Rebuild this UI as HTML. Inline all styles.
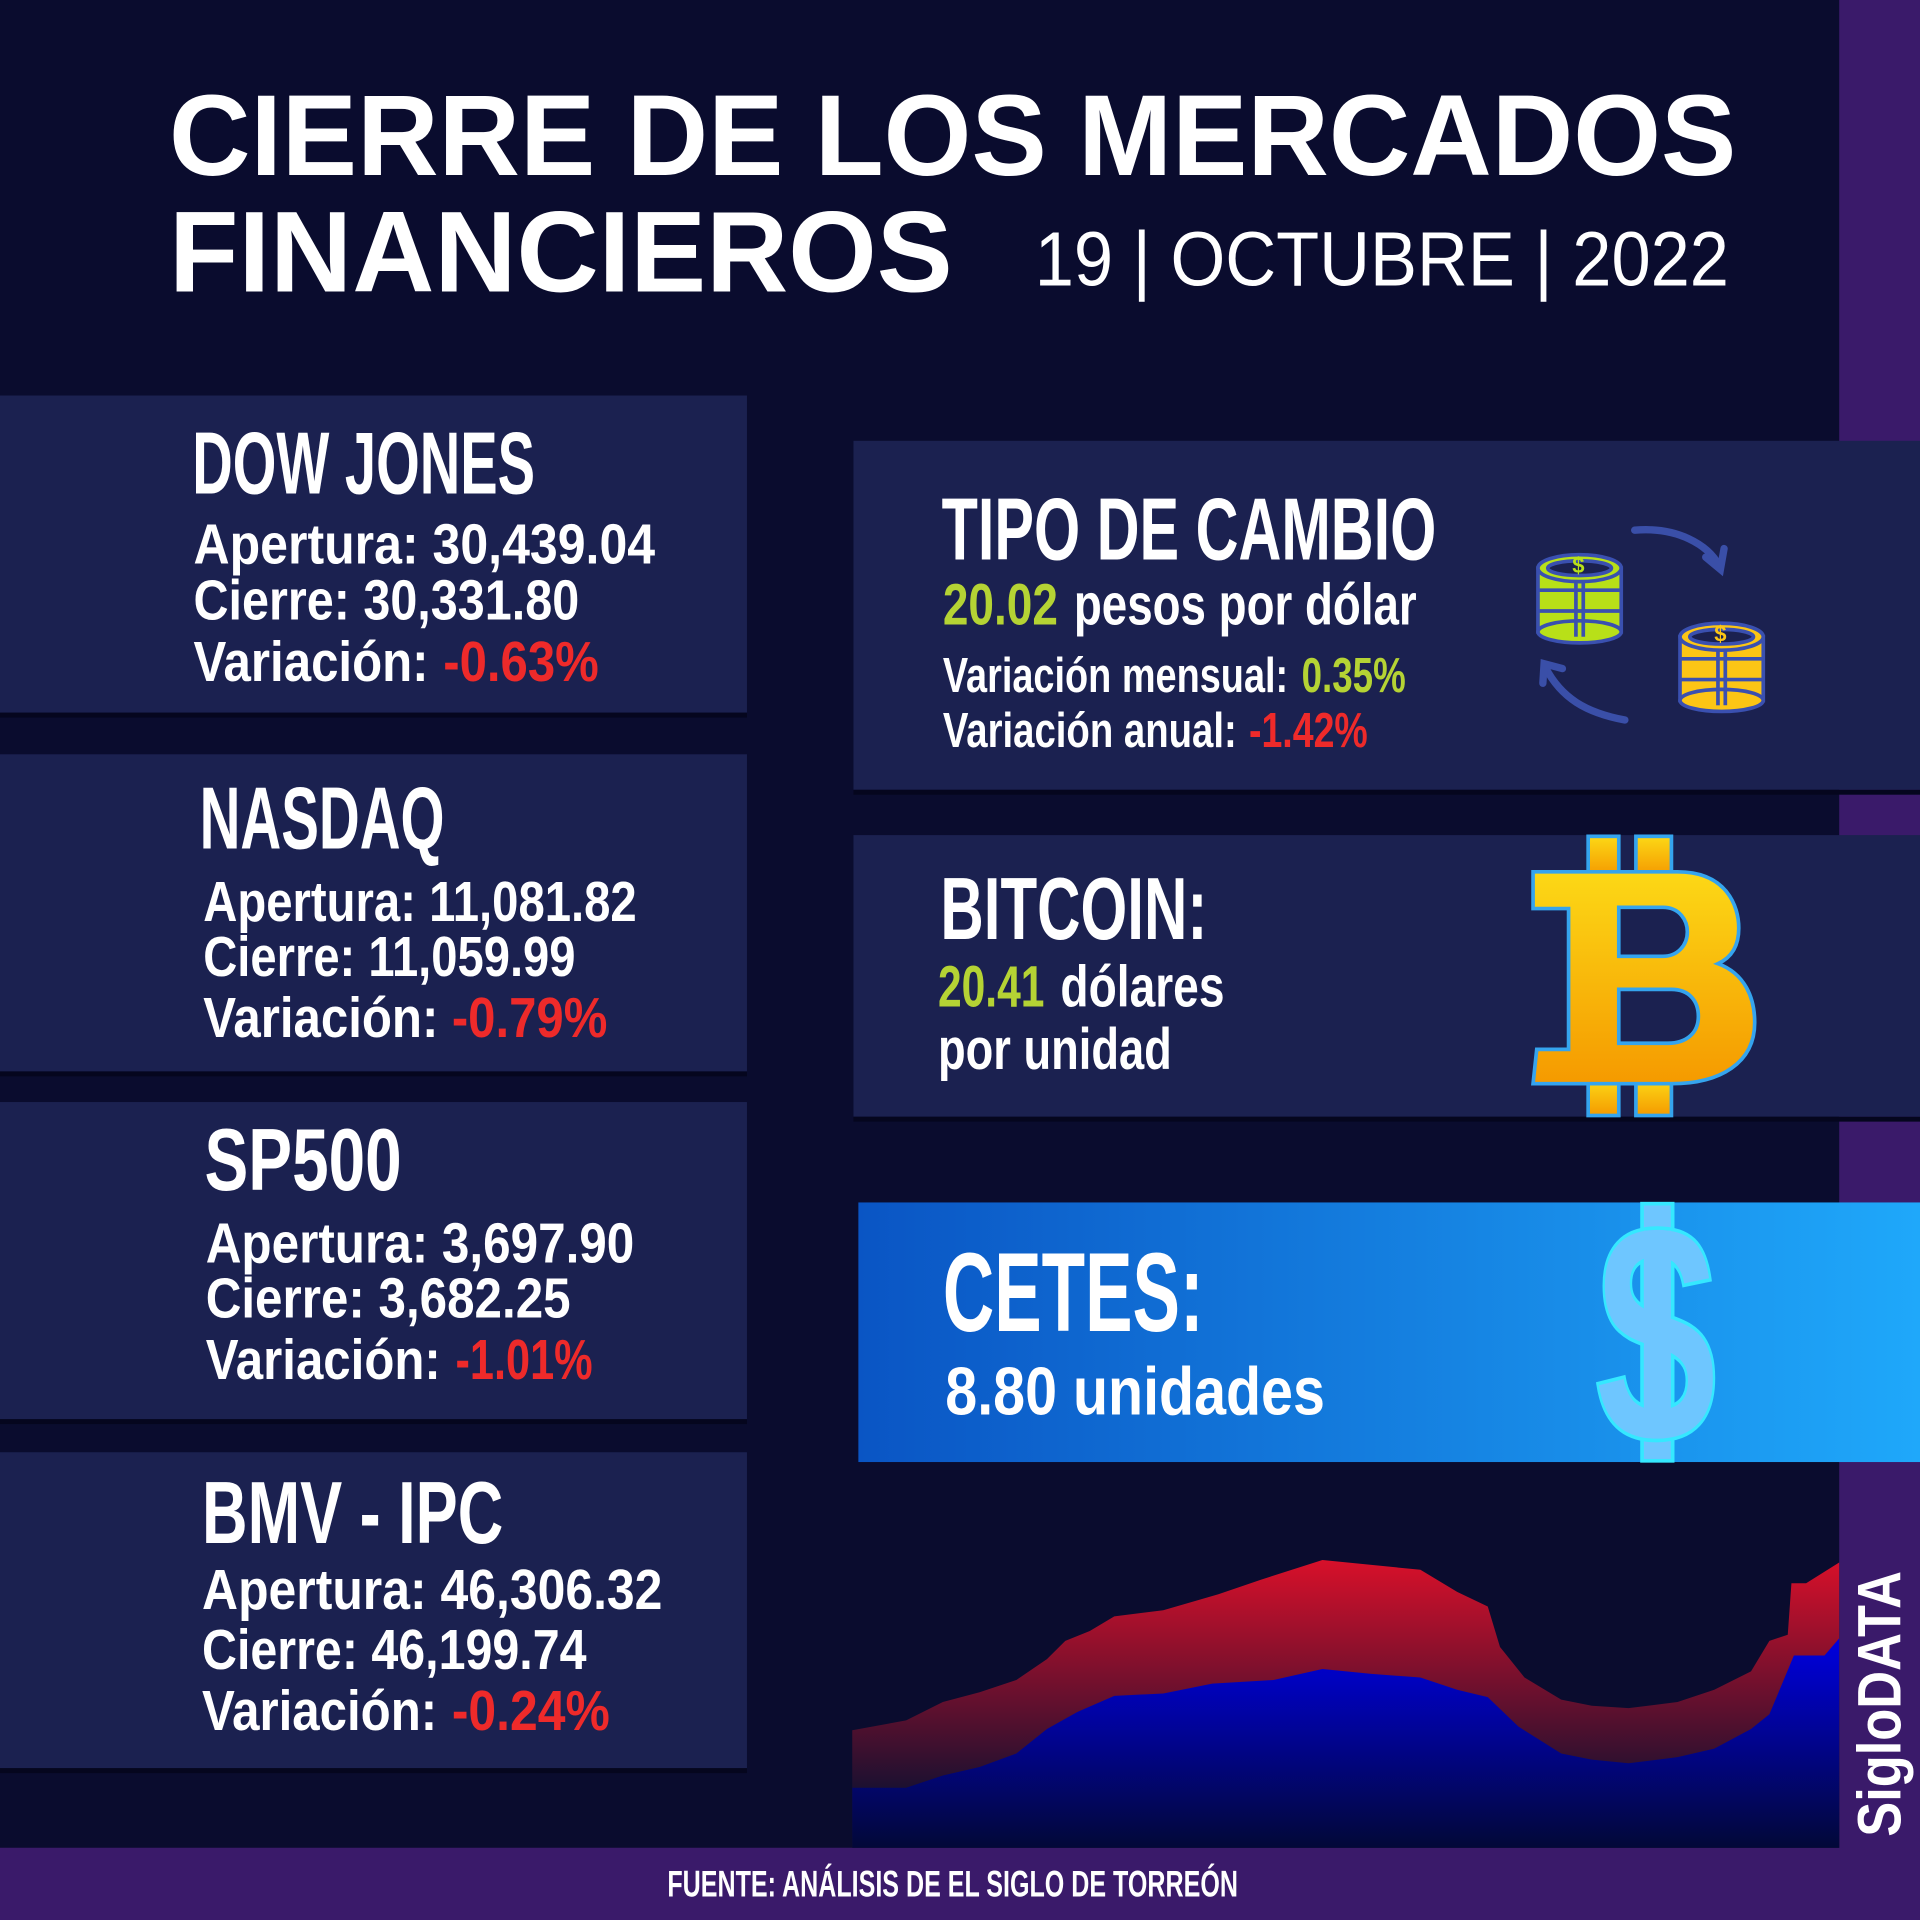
<!DOCTYPE html>
<html><head><meta charset="utf-8"><style>
html,body{margin:0;padding:0;background:#0a0c2e;}
svg{display:block}
text{font-family:"Liberation Sans Narrow","Liberation Sans",sans-serif;font-weight:bold;fill:#fff}
</style></head><body>
<svg width="1920" height="1920" viewBox="0 0 1568 1568" xmlns="http://www.w3.org/2000/svg">
<defs>
<linearGradient id="cet" x1="0" y1="0" x2="1" y2="0"><stop offset="0" stop-color="#0a55c4"/><stop offset="1" stop-color="#1fa8fa"/></linearGradient>
<linearGradient id="btc" x1="0" y1="0" x2="0" y2="1"><stop offset="0" stop-color="#fcd816"/><stop offset="1" stop-color="#f59a00"/></linearGradient>
<linearGradient id="red" x1="0" y1="0" x2="0" y2="1"><stop offset="0" stop-color="#d8102a"/><stop offset="0.8" stop-color="#1a1030"/></linearGradient>
<linearGradient id="blu" x1="0" y1="0" x2="0" y2="1"><stop offset="0" stop-color="#0000e0"/><stop offset="1" stop-color="#020838"/></linearGradient>
</defs>
<rect width="1568" height="1568" fill="#0a0c2e"/>
<rect x="1502" y="0" width="66" height="1568" fill="#3a1a6a"/>
<rect x="0" y="1509" width="1568" height="59" fill="#3a1a6a"/>

<text x="138" y="143" font-size="94" textLength="1280" lengthAdjust="spacingAndGlyphs" style="font-family:'Liberation Sans',sans-serif">CIERRE DE LOS MERCADOS</text>
<text x="138" y="238" font-size="94" textLength="640" lengthAdjust="spacingAndGlyphs" style="font-family:'Liberation Sans',sans-serif">FINANCIEROS</text>
<text x="845" y="233" font-size="63" textLength="567" lengthAdjust="spacingAndGlyphs" style="font-family:'Liberation Sans',sans-serif;font-weight:normal">19 | OCTUBRE | 2022</text>

<g fill="#1b2150">
<rect x="0" y="323" width="610" height="259"/>
<rect x="0" y="616" width="610" height="259"/>
<rect x="0" y="900" width="610" height="259"/>
<rect x="0" y="1186" width="610" height="258"/>
</g>
<g fill="#05061e">
<rect x="0" y="582" width="610" height="4"/><rect x="0" y="875" width="610" height="4"/><rect x="0" y="1159" width="610" height="4"/><rect x="0" y="1444" width="610" height="4"/>
</g>

<text x="157" y="403" font-size="72" textLength="280" lengthAdjust="spacingAndGlyphs">DOW JONES</text>
<text x="158" y="460" font-size="46" textLength="377" lengthAdjust="spacingAndGlyphs">Apertura: 30,439.04</text>
<text x="158" y="506" font-size="46" textLength="315" lengthAdjust="spacingAndGlyphs">Cierre: 30,331.80</text>
<text x="158" y="556" font-size="46" textLength="192" lengthAdjust="spacingAndGlyphs">Variación:</text>
<text x="362" y="556" font-size="46" textLength="127" lengthAdjust="spacingAndGlyphs" style="fill:#ee2a2a">-0.63%</text>

<text x="163" y="693" font-size="72" textLength="200" lengthAdjust="spacingAndGlyphs">NASDAQ</text>
<text x="166" y="752" font-size="46" textLength="354" lengthAdjust="spacingAndGlyphs">Apertura: 11,081.82</text>
<text x="166" y="797" font-size="46" textLength="304" lengthAdjust="spacingAndGlyphs">Cierre: 11,059.99</text>
<text x="166" y="847" font-size="46" textLength="192" lengthAdjust="spacingAndGlyphs">Variación:</text>
<text x="369" y="847" font-size="46" textLength="127" lengthAdjust="spacingAndGlyphs" style="fill:#ee2a2a">-0.79%</text>

<text x="167" y="972" font-size="72" textLength="161" lengthAdjust="spacingAndGlyphs">SP500</text>
<text x="168" y="1031" font-size="46" textLength="350" lengthAdjust="spacingAndGlyphs">Apertura: 3,697.90</text>
<text x="168" y="1076" font-size="46" textLength="298" lengthAdjust="spacingAndGlyphs">Cierre: 3,682.25</text>
<text x="168" y="1126" font-size="46" textLength="192" lengthAdjust="spacingAndGlyphs">Variación:</text>
<text x="372" y="1126" font-size="46" textLength="112" lengthAdjust="spacingAndGlyphs" style="fill:#ee2a2a">-1.01%</text>

<text x="165" y="1260" font-size="72" textLength="246" lengthAdjust="spacingAndGlyphs">BMV - IPC</text>
<text x="165" y="1314" font-size="46" textLength="376" lengthAdjust="spacingAndGlyphs">Apertura: 46,306.32</text>
<text x="165" y="1363" font-size="46" textLength="314" lengthAdjust="spacingAndGlyphs">Cierre: 46,199.74</text>
<text x="165" y="1413" font-size="46" textLength="192" lengthAdjust="spacingAndGlyphs">Variación:</text>
<text x="369" y="1413" font-size="46" textLength="129" lengthAdjust="spacingAndGlyphs" style="fill:#ee2a2a">-0.24%</text>

<rect x="697" y="360" width="871" height="285" fill="#1b2150"/>
<rect x="697" y="645" width="871" height="4" fill="#05061e"/>
<rect x="697" y="682" width="871" height="230" fill="#1b2150"/>
<rect x="697" y="912" width="871" height="4" fill="#05061e"/>
<rect x="701" y="982" width="867" height="212" fill="url(#cet)"/>

<text x="769" y="457" font-size="72" textLength="404" lengthAdjust="spacingAndGlyphs">TIPO DE CAMBIO</text>
<text x="770" y="510" font-size="48" textLength="94" lengthAdjust="spacingAndGlyphs" style="fill:#b5d334">20.02</text>
<text x="877" y="510" font-size="48" textLength="280" lengthAdjust="spacingAndGlyphs">pesos por dólar</text>
<text x="770" y="565" font-size="40" textLength="282" lengthAdjust="spacingAndGlyphs">Variación mensual:</text>
<text x="1063" y="565" font-size="40" textLength="85" lengthAdjust="spacingAndGlyphs" style="fill:#b5d334">0.35%</text>
<text x="770" y="610" font-size="40" textLength="240" lengthAdjust="spacingAndGlyphs">Variación anual:</text>
<text x="1020" y="610" font-size="40" textLength="97" lengthAdjust="spacingAndGlyphs" style="fill:#ee2a2a">-1.42%</text>

<g stroke="#3a50b0" stroke-width="3">
<g transform="translate(1256,452)">
<rect x="0" y="12" width="68" height="52" fill="#b8e018"/>
<ellipse cx="34" cy="64" rx="34" ry="9" fill="#b8e018"/>
<line x1="0" y1="30" x2="68" y2="30"/><line x1="0" y1="47" x2="68" y2="47"/>
<line x1="31" y1="20" x2="31" y2="68"/><line x1="37" y1="20" x2="37" y2="68"/>
<ellipse cx="34" cy="12" rx="34" ry="11" fill="#b8e018"/>
<ellipse cx="34" cy="12" rx="26" ry="6" fill="#1b2150"/>
</g>
<g transform="translate(1372,508)">
<rect x="0" y="12" width="68" height="52" fill="#fcc515"/>
<ellipse cx="34" cy="64" rx="34" ry="9" fill="#fcc515"/>
<line x1="0" y1="30" x2="68" y2="30"/><line x1="0" y1="47" x2="68" y2="47"/>
<line x1="31" y1="20" x2="31" y2="68"/><line x1="37" y1="20" x2="37" y2="68"/>
<ellipse cx="34" cy="12" rx="34" ry="11" fill="#fcc515"/>
<ellipse cx="34" cy="12" rx="26" ry="6" fill="#1b2150"/>
</g>
</g>
<text x="1284" y="468" font-size="18" style="fill:#b8e018">$</text>
<text x="1400" y="524" font-size="18" style="fill:#fcc515">$</text>
<g stroke="#3a4fa8" stroke-width="6" fill="none" stroke-linecap="round">
<path d="M1335,433 C1370,430 1395,445 1404,462"/>
<path d="M1393,455 L1405,465 L1408,448"/>
<path d="M1327,588 C1295,582 1275,570 1262,545"/>
<path d="M1260,558 L1261,542 L1276,546"/>
</g>

<text x="768" y="767" font-size="72" textLength="218" lengthAdjust="spacingAndGlyphs">BITCOIN:</text>
<text x="766" y="822" font-size="48" textLength="87" lengthAdjust="spacingAndGlyphs" style="fill:#b5d334">20.41</text>
<text x="866" y="822" font-size="48" textLength="134" lengthAdjust="spacingAndGlyphs">dólares</text>
<text x="766" y="873" font-size="48" textLength="191" lengthAdjust="spacingAndGlyphs">por unidad</text>

<g stroke="#35a4ee" stroke-width="3" fill="url(#btc)">
<rect x="1297" y="683" width="25" height="32"/>
<rect x="1336" y="683" width="29" height="32"/>
<rect x="1297" y="882" width="25" height="29"/>
<rect x="1336" y="882" width="29" height="29"/>
<path fill-rule="evenodd" d="M1252,712 H1370 C1410,712 1420,740 1420,758 C1420,775 1412,783 1403,787 C1425,795 1433,815 1433,835 C1433,868 1405,885 1365,885 H1252 L1255,857 H1281 V742 H1252 Z M1322,741 H1358 C1372,741 1378,752 1378,761 C1378,772 1370,781 1358,781 H1322 Z M1322,808 H1365 C1380,808 1387,818 1387,830 C1387,843 1378,852 1362,852 H1322 Z"/>
</g>

<text x="770" y="1087" font-size="92" textLength="213" lengthAdjust="spacingAndGlyphs">CETES:</text>
<text x="772" y="1155" font-size="55" textLength="310" lengthAdjust="spacingAndGlyphs">8.80 unidades</text>

<rect x="1341" y="983" width="25" height="210" fill="#6ec6ff" stroke="#35e8ff" stroke-width="3"/>
<text x="1300" y="1174" font-size="245" textLength="106" lengthAdjust="spacingAndGlyphs" style="font-family:'Liberation Sans',sans-serif;fill:#6ec6ff;stroke:#35e8ff;stroke-width:3">S</text>
<rect x="1342.5" y="1005" width="22" height="160" fill="#6ec6ff"/>

<path fill="url(#red)" d="M696,1413 L740,1405 L770,1390 L800,1382 L830,1372 L855,1355 L870,1340 L890,1332 L910,1320 L950,1315 L995,1302 L1030,1290 L1080,1274 L1120,1278 L1160,1282 L1190,1300 L1215,1312 L1225,1345 L1245,1370 L1275,1388 L1300,1393 L1330,1395 L1370,1390 L1400,1380 L1430,1365 L1445,1340 L1460,1335 L1463,1293 L1475,1293 L1502,1276 L1502,1509 L696,1509 Z"/>
<path fill="url(#blu)" d="M696,1460 L740,1460 L770,1450 L800,1443 L830,1432 L855,1412 L880,1398 L910,1385 L950,1383 L990,1375 L1040,1372 L1080,1363 L1120,1367 L1160,1370 L1190,1380 L1215,1386 L1240,1410 L1275,1432 L1300,1437 L1330,1440 L1370,1435 L1400,1428 L1430,1412 L1445,1400 L1465,1352 L1490,1352 L1502,1338 L1502,1509 L696,1509 Z"/>

<text transform="translate(1552,1500) rotate(-90)" font-size="50" textLength="217" lengthAdjust="spacingAndGlyphs" style="font-family:'Liberation Sans',sans-serif">SigloDATA</text>
<text x="545" y="1549" font-size="30" textLength="466" lengthAdjust="spacingAndGlyphs">FUENTE: ANÁLISIS DE EL SIGLO DE TORREÓN</text>
</svg>
</body></html>
